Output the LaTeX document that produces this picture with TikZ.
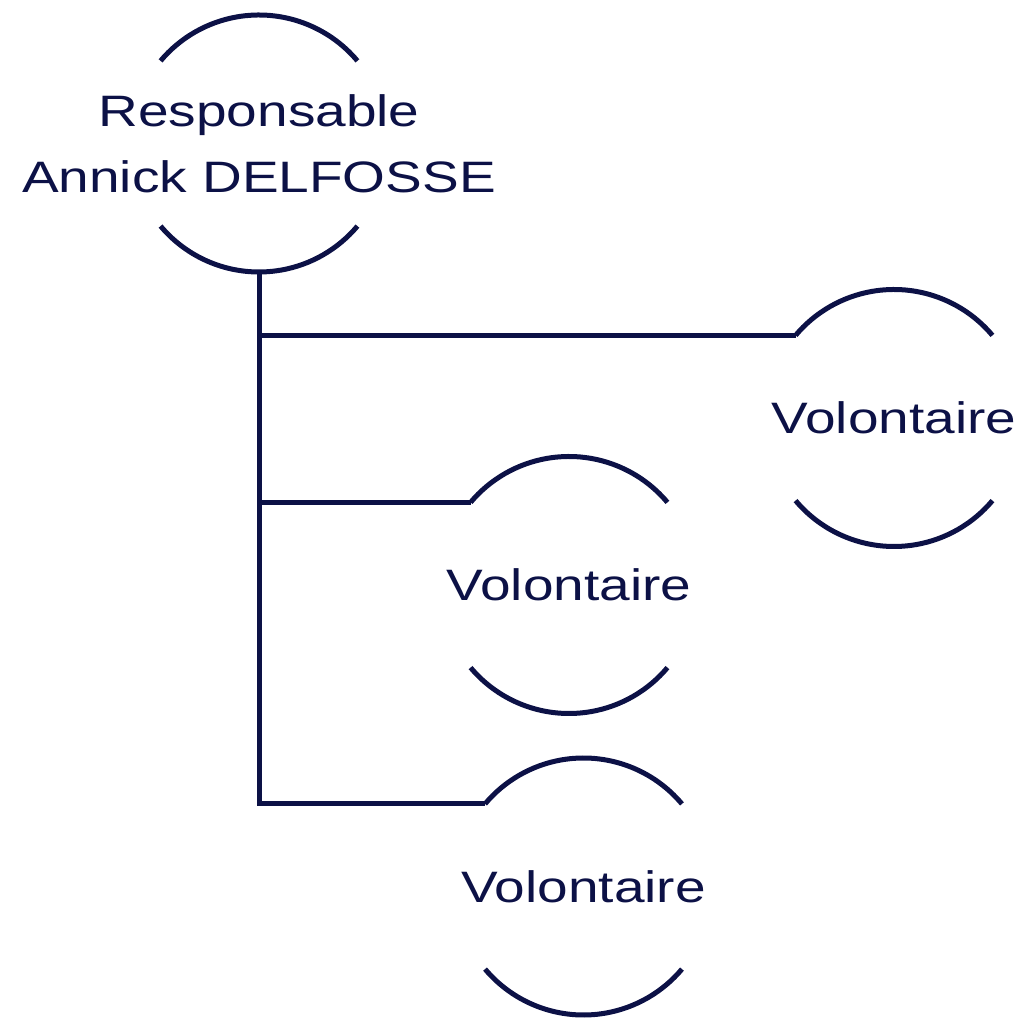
\documentclass[tikz,border=0pt]{standalone}
\usepackage{fontspec}
\setmainfont{Liberation Sans}[FakeStretch=1.25]
\definecolor{navy}{RGB}{12,17,70}
\begin{document}
\begin{tikzpicture}[x=1pt,y=1pt,
  ring/.style={circle, minimum size=257pt, inner sep=0pt, outer sep=0pt},
  txt/.style={text=navy, font=\fontsize{44}{66}\selectfont, align=center, inner sep=0pt},
  rim/.style={draw=navy, line width=5pt},
  link/.style={draw=navy, line width=5pt, line join=miter}]
\useasboundingbox (0,0) rectangle (1019,1017);
\node[ring] (resp) at (259,873.5) {};
\node[ring] (v1) at (894,599) {};
\node[ring] (v2) at (569,432) {};
\node[ring] (v3) at (583.5,130.5) {};
\node[txt] (resp-t) at (resp.center) {Responsable\\Annick DELFOSSE};
\node[txt] (v1-t) at (v1.center) {Volontaire};
\node[txt] (v2-t) at (v2.center) {Volontaire};
\node[txt] (v3-t) at (v3.center) {Volontaire};
\foreach \n in {resp,v1,v2,v3}{
  \draw[rim] (\n.40) arc[start angle=40,end angle=140,radius=128.5pt];
  \draw[rim] (\n.220) arc[start angle=220,end angle=320,radius=128.5pt];
}
\draw[link] (resp.south) -- (resp.south |- v3.140) -- (v3.140);
\draw[link] (resp.south |- v1.140) -- (v1.140);
\draw[link] (resp.south |- v2.140) -- (v2.140);
\end{tikzpicture}
\end{document}
